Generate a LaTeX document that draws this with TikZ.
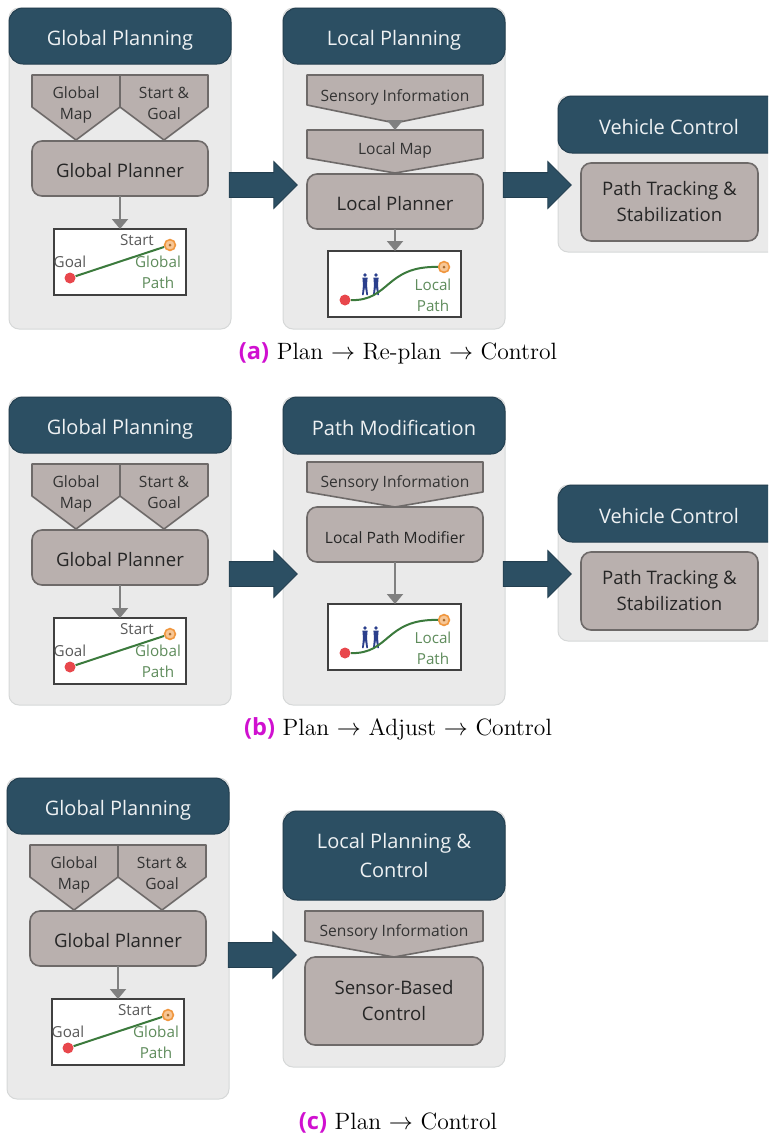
\documentclass[tikz,border=0pt]{standalone}
\usepackage{fontspec}
\setmainfont{Open Sans}
\newfontfamily\capfont{Latin Modern Roman}
\newfontfamily\tagfont{Open Sans}
\usetikzlibrary{shapes.arrows,arrows.meta}

\definecolor{panelgray}{HTML}{EAEAEA}
\definecolor{panelline}{HTML}{D6D8D8}
\definecolor{headblue}{HTML}{2C4F63}
\definecolor{headline}{HTML}{233F50}
\definecolor{boxfill}{HTML}{B9B0AE}
\definecolor{boxline}{HTML}{6E6A69}
\definecolor{pathgreen}{HTML}{3B7A3C}
\definecolor{pathtext}{HTML}{5F8C5C}
\definecolor{goalred}{HTML}{E8474C}
\definecolor{startorange}{HTML}{F0973F}
\definecolor{walkerblue}{HTML}{2B3F8C}
\definecolor{capmagenta}{HTML}{D010D0}

\tikzset{
  panel/.style={draw=panelline, fill=panelgray, rounded corners=5pt, line width=.5pt},
  struts/.style={execute at begin node=\strut, execute at end node=\strut, inner sep=0pt},
  headtext/.style={struts, text=white!92!headblue, font=\fontsize{10}{14.5}\selectfont, align=center, yshift=-2pt},
  head/.style={draw=headline, fill=headblue, rounded corners=7pt, line width=.5pt},
  boxtext/.style={struts, text=black!85, font=\fontsize{9.3}{13}\selectfont, align=center, yshift=-1.8pt},
  stage/.style={draw=boxline, fill=boxfill, rounded corners=5pt, line width=.8pt},
  inputbox/.style={draw=boxline, fill=boxfill, line width=.8pt, line join=round},
  inputtext/.style={struts, text=black!80, font=\fontsize{7.8}{10.5}\selectfont, align=center},
  flow/.style={draw=black!50, line width=1pt, -{Triangle[length=5pt,width=8pt]}},
  bigarrow/.style={shape=single arrow, draw=headline, fill=headblue, line width=.4pt,
    text width=1pt, text height=12pt, text depth=0pt, minimum height=34pt, inner sep=0pt,
    single arrow head extend=5.5pt, single arrow head indent=0pt},
  mapbox/.style={draw=black!75, fill=white, line width=.9pt},
  maptext/.style={font=\fontsize{7.6}{10.5}\selectfont, inner sep=0pt, align=center},
  goaldot/.style={shape=circle, fill=goalred, minimum size=5.5pt, inner sep=0pt},
  startdot/.style={shape=circle, draw=startorange, line width=.8pt, fill=startorange!55,
    minimum size=5.4pt, inner sep=0pt},
  captext/.style={font=\capfont\fontsize{11.8}{14}\selectfont, inner sep=0pt}
}

\newcommand{\captag}[1]{{\tagfont\bfseries\color{capmagenta}(#1)}}

% the panel with its header and centred title
\newcommand{\panelhead}[7]{%
  \draw[panel] (#2,#3) rectangle (#4,#6);
  \draw[head] (#2,#3) rectangle (#4,#5);
  \node[headtext] (#1title) at ({(#2+#4)/2},{(#3+#5)/2}) {#7};
}

% box with a point at the bottom: name, x1, x2, top, shoulder, tip, text y, text
\newcommand{\inputbox}[8]{%
  \draw[inputbox] (#2,#4) -- (#3,#4) -- (#3,#5) -- ({(#2+#3)/2},#6) -- (#2,#5) -- cycle;
  \coordinate (#1top) at ({(#2+#3)/2},#4);
  \coordinate (#1tip) at ({(#2+#3)/2},#6);
  \node[inputtext] (#1) at ({(#2+#3)/2},#7) {#8};
}

% box with round corners: name, x1, x2, top, bottom, text
\newcommand{\stagebox}[6]{%
  \draw[stage] (#2,#4) rectangle (#3,#5);
  \coordinate (#1top) at ({(#2+#3)/2},#4);
  \coordinate (#1bot) at ({(#2+#3)/2},#5);
  \node[boxtext] (#1) at ({(#2+#3)/2},{(#4+#5)/2}) {#6};
}

% Global planning column
\newcommand{\globalcol}[4]{%
  \begin{scope}[shift={(#2,#3)}]
    \panelhead{#1}{9}{8}{231}{64}{#4}{Global Planning}
    \inputbox{#1map}{32}{120}{75}{107}{140}{106}{Global\\Map}
    \inputbox{#1goal}{120}{208}{75}{107}{140}{106}{Start \&\\Goal}
    \stagebox{#1planner}{32}{208}{141}{196}{Global Planner}

    \draw[mapbox] (54,229) rectangle (186,295);
    \coordinate (#1boxtop) at (120,229);
    \draw[flow] (#1plannerbot) -- (#1boxtop);

    \node[goaldot] (#1g) at (70,278) {};
    \node[startdot] (#1s) at (170,245) {};
    \draw[pathgreen, line width=1pt] (#1g) -- (#1s);
    \fill[startorange!70!black] (#1s) circle (1.5);

    \node[maptext, text=black!65] (#1gl) at (70,262) {Goal};
    \node[maptext, text=black!65] (#1sl) at (137,240) {Start};
    \node[maptext, text=pathtext] (#1pl) at (158,272) {Global\\Path};
  \end{scope}
}

% The walker in the local map
\newcommand{\walker}[2]{%
  \fill[walkerblue] (#1,#2-9) circle (1.9);
  \fill[walkerblue] (#1-2.6,#2-6.5) -- (#1+2.6,#2-6.5) -- (#1+2,#2+1) -- (#1+3,#2+11)
    -- (#1+1.4,#2+11) -- (#1,#2+3) -- (#1-1.4,#2+11) -- (#1-3,#2+11) -- (#1-2,#2+1) -- cycle;
}

% Local path map
\newcommand{\localmap}[2]{%
  \begin{scope}[shift={(0,#2)}]
    \draw[mapbox] (328,251) rectangle (461,317);
    \coordinate (#1boxtop) at (395,251);
    \walker{365}{284}
    \walker{376}{284}
    \node[goaldot] (#1g) at (345,300) {};
    \node[startdot] (#1s) at (444,267) {};
    \draw[pathgreen, line width=1pt] (#1g) .. controls (390,301) and (385,266) .. (#1s);
    \fill[startorange!70!black] (#1s) circle (1.5);
    \node[maptext, text=pathtext] (#1pl) at (433,295) {Local\\Path};
  \end{scope}
}

% Vehicle control column
\newcommand{\vehiclecol}[2]{%
  \begin{scope}[shift={(0,#2)}]
    \draw[panel] (558,96) rectangle (790,252);
    \draw[head] (558,96) rectangle (790,153);
    \node[headtext] (#1title) at (669,124.5) {Vehicle Control};
    \stagebox{#1track}{581}{758}{163}{241}{Path Tracking \&\\Stabilization}
  \end{scope}
}

\begin{document}
\begin{tikzpicture}[x=.5pt, y=-.5pt]
  \useasboundingbox (0,0) rectangle (768,1137);
  \clip (0,0) rectangle (768,1137);

  % (a)
  \globalcol{ga}{0}{0}{329}
  \panelhead{la}{283}{8}{505}{64}{329}{Local Planning}
  \inputbox{lasense}{307}{483}{75}{105}{123}{97}{Sensory Information}
  \inputbox{lamap}{307}{483}{130}{158}{173}{150}{Local Map}
  \stagebox{laplan}{307}{483}{174}{229}{Local Planner}
  \localmap{lam}{0}
  \draw[flow] (lasensetip) -- (lamaptop);
  \draw[flow] (laplanbot) -- (lamboxtop);
  \vehiclecol{va}{0}
  \node[bigarrow] (aone) at (257,185) {};
  \node[bigarrow] (atwo) at (531,185) {};
  \node[captext] (capa) at (398,353) {\captag{a} Plan $\rightarrow$ Re-plan $\rightarrow$ Control};

  % (b)
  \globalcol{gb}{0}{389}{316}
  \panelhead{lb}{283}{397}{505}{454}{705}{Path Modification}
  \inputbox{lbsense}{307}{483}{462}{492}{507}{483}{Sensory Information}
  \stagebox{lbplan}{307}{483}{507}{562}{\fontsize{7.8}{11}\selectfont Local Path Modifier}
  \localmap{lbm}{353}
  \draw[flow] (lbplanbot) -- (lbmboxtop);
  \vehiclecol{vb}{389}
  \node[bigarrow] (bone) at (257,574) {};
  \node[bigarrow] (btwo) at (531,574) {};
  \node[captext] (capb) at (398,729) {\captag{b} Plan $\rightarrow$ Adjust $\rightarrow$ Control};

  % (c)
  \globalcol{gc}{-2}{770}{329}
  \panelhead{lc}{283}{811}{505}{900}{1067}{Local Planning \&\\Control}
  \inputbox{lcsense}{305}{483}{911}{941}{957}{932}{Sensory Information}
  \stagebox{lcplan}{305}{483}{957}{1045}{Sensor-Based\\Control}
  \node[bigarrow] (cone) at (256,955) {};
  \node[captext] (capc) at (398,1123) {\captag{c} Plan $\rightarrow$ Control};
\end{tikzpicture}
\end{document}
